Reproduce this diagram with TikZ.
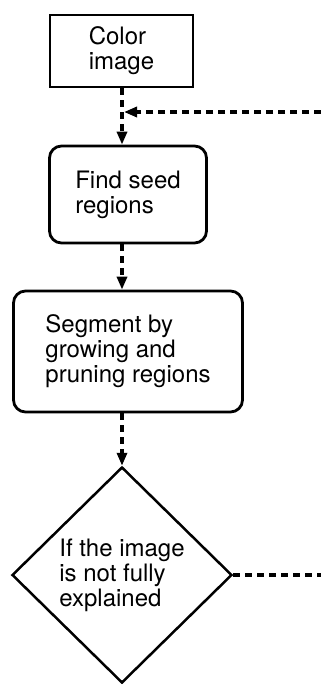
\documentclass[tikz,border=0pt]{standalone}
\usepackage{fontspec}
\setmainfont{TeX Gyre Heros}
\usepackage{tikz}
\usetikzlibrary{arrows.meta,positioning,shapes.geometric}

\tikzset{
  stepbox/.style={draw, line width=2.8pt, align=left, font=\fontsize{24}{25}\selectfont, inner sep=0pt},
  roundbox/.style={stepbox, rounded corners=12pt},
  testbox/.style={draw, diamond, line width=2.5pt, align=left, font=\fontsize{24}{25}\selectfont, inner sep=0pt, aspect=1},
  flow/.style={line width=3.4pt, dash pattern=on 7pt off 5pt, -{Triangle[length=13pt,width=10pt]}},
  flowend/.style={line width=3.4pt, dash pattern=on 7pt off 5pt}
}

\begin{document}
\begin{tikzpicture}[x=1pt,y=1pt]
    \useasboundingbox (0,0) rectangle (321,-685);

    % 処理の箱
    \node[stepbox, minimum width=143pt, minimum height=72pt] (colorimg) at (121.5,-51) {Color\\image};
    \node[roundbox, minimum width=157pt, minimum height=97pt] (seeds) at (128,-194.5) {Find seed\\regions};
    \node[roundbox, minimum width=229pt, minimum height=121pt] (segment) at (128,-351.5) {Segment by\\growing and\\pruning regions};

    % 判定
    \node[testbox, minimum width=220pt, minimum height=216pt] (check) at (122,-575) {If the image\\is not fully\\explained};

    % 接続
    \coordinate (join) at (122,-112);
    \coordinate (backin) at (321,-112);
    \coordinate (backout) at (321,-575);
    \draw[flowend] (colorimg.south -| join) -- (join);
    \draw[flow] (join) -- (join |- seeds.north);
    \draw[flow] (backin) -- ([xshift=2pt]join);
    \draw[flow] (seeds.south -| join) -- (join |- segment.north);
    \draw[flow] (segment.south -| join) -- (check.north);
    \draw[flowend] (check.east) -- (backout);
\end{tikzpicture}
\end{document}
